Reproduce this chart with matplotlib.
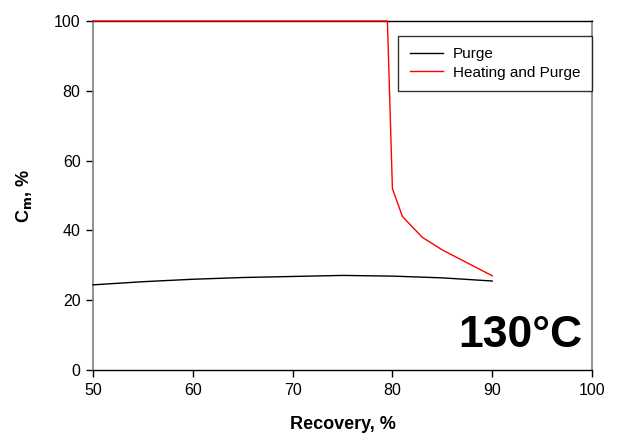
import matplotlib
matplotlib.use("Agg")
import matplotlib.pyplot as plt

plt.rcParams['font.family'] = ['Liberation Sans', 'DejaVu Sans']

purge_x = [50, 55, 60, 65, 70, 75, 80, 85, 90]
purge_y = [24.4, 25.3, 26.0, 26.5, 26.8, 27.1, 26.9, 26.4, 25.5]

heat_x = [50, 79.5, 80, 81, 83, 85, 90]
heat_y = [100, 100, 52, 44, 38, 34.4, 27]

xticks = [50, 60, 70, 80, 90, 100]
yticks = [0, 20, 40, 60, 80, 100]

fig = plt.figure(figsize=(6.17, 4.44), dpi=100)
ax = fig.add_axes([93/617, (444-370)/444, (592-93)/617, (370-21)/444])

ax.plot(purge_x, purge_y, color='black', lw=1.0, label='Purge', clip_on=False, zorder=3)
ax.plot(heat_x, heat_y, color='red', lw=1.0, label='Heating and Purge', clip_on=False, zorder=4)

ax.set_xlim(50, 100)
ax.set_ylim(0, 100)
ax.set_xticks(xticks)
ax.set_yticks(yticks)
ax.tick_params(direction='out', length=5, width=1, labelsize=11.5, pad=4)

for s in ['left', 'right']:
    ax.spines[s].set_color('#808080')
    ax.spines[s].set_linewidth(1.2)
for s in ['top', 'bottom']:
    ax.spines[s].set_color('black')
    ax.spines[s].set_linewidth(1.0)

ax.set_xlabel('Recovery, %', fontsize=13, fontweight='bold', labelpad=13)
ax.set_ylabel('C$_\\mathbf{m}$, %', fontsize=13, fontweight='bold', labelpad=14)

ax.text(99.0, 6.6, '130°C', fontsize=32, fontweight='bold', ha='right', va='baseline')

leg = ax.legend(loc='upper right', bbox_to_anchor=(1.0, 1 - (35.7-21)/349), borderaxespad=0,
                fontsize=11, fancybox=False, frameon=True, handlelength=2.2,
                handletextpad=0.65, borderpad=0.75, labelspacing=0.3)
leg.get_frame().set_edgecolor('black')
leg.get_frame().set_linewidth(1.0)

fig.savefig('out.png', dpi=100)
